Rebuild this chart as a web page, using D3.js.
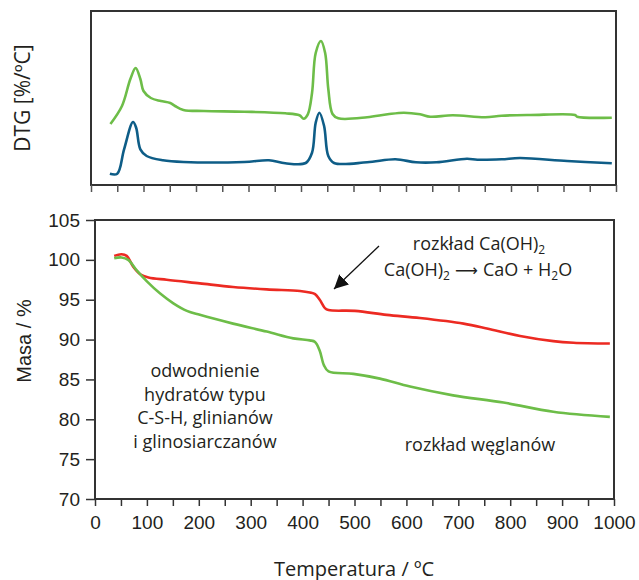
<!DOCTYPE html>
<html>
<head>
<meta charset="utf-8">
<script src="https://cdn.jsdelivr.net/npm/d3@7"></script>
<style>
  body { margin: 0; background: #fff; }
  svg { display: block; }
</style>
</head>
<body>
<div id="chart"></div>
<script>
// DTG curves (relative units, no scale on the axis)
var dtgGreenT = [37, 59, 75, 85, 94, 100, 114, 133, 151, 160, 176, 215, 292, 370, 397, 405, 413, 421, 428, 438, 446, 452, 460, 471, 526, 565, 596, 627, 646, 689, 751, 782, 837, 922, 926, 992]
var dtgGreen  = [61, 79, 106, 117, 106, 94, 87, 84, 82, 79, 75, 74, 73.3, 71.7, 69.7, 66.3, 70.7, 92, 132, 144, 132, 96, 71, 66.7, 67.7, 70.7, 72.3, 70.7, 68.3, 69.7, 67.7, 69.3, 70, 70, 68.3, 67.3]
var dtgBlueT  = [36, 50, 63, 80, 86, 94, 106, 137, 176, 292, 339, 370, 409, 421, 428, 435, 444, 452, 463, 526, 580, 619, 658, 716, 736, 782, 817, 907, 992]
var dtgBlue   = [11.3, 11.3, 35.7, 63, 57.3, 35.7, 29, 24.7, 23, 23, 24.7, 21.7, 22, 32.3, 62.3, 72.3, 59, 29, 22, 22.7, 25.7, 22.7, 22.7, 26.3, 25.3, 25.7, 27, 24, 21.7]

// TG curves, mass %
var tgRedT   = [37, 51, 61, 74, 87, 103, 138, 202, 266, 331, 395, 414, 424, 433, 443, 450, 501, 562, 626, 710, 755, 819, 883, 922, 992]
var tgRed    = [100.5, 100.7, 100.5, 99.1, 98.2, 97.8, 97.5, 97.05, 96.6, 96.3, 96.1, 95.9, 95.7, 95.0, 93.95, 93.7, 93.6, 93.1, 92.7, 92.0, 91.4, 90.45, 89.8, 89.6, 89.5]
var tgGreenT = [37, 51, 64, 80, 100, 125, 151, 177, 202, 266, 331, 382, 414, 424, 433, 441, 450, 498, 549, 607, 690, 787, 883, 992]
var tgGreen  = [100.2, 100.3, 100.0, 98.7, 97.3, 95.8, 94.55, 93.6, 93.1, 92.0, 91.0, 90.15, 89.9, 89.7, 88.6, 86.8, 86.0, 85.7, 85.1, 84.1, 83.0, 82.1, 80.95, 80.3]

var xTicks = d3.range(0, 1001, 50)
var yTicks = d3.range(70, 106, 5)

var width = 639, height = 580
var green = "#6dbd48", blue = "#0e5d87", red = "#ec2a22", ink = "#231f20"

var svg = d3.select("#chart").append("svg")
    .attr("width", width)
    .attr("height", height)

// ---------- top panel (DTG) ----------
var xTop = d3.scaleLinear().domain([0, 1000]).range([91, 616])
var yTop = d3.scaleLinear().domain([0, 174]).range([185, 11])

svg.append("rect")
    .attr("x", 91).attr("y", 11)
    .attr("width", 616 - 91).attr("height", 185 - 11)
    .attr("fill", "none").attr("stroke", "#333").attr("stroke-width", 2)

var axTop = svg.append("g")
    .attr("transform", "translate(0,185)")
    .call(d3.axisBottom(xTop).tickValues(xTicks).tickSize(7).tickFormat(""))
axTop.select(".domain").remove()
axTop.selectAll("line").attr("stroke", "#555").attr("stroke-width", 1.5)

var lineTop = function(ts) {
  return d3.line()
    .x(function(d, i) { return xTop(ts[i]) })
    .y(function(d) { return yTop(d) })
    .curve(d3.curveCatmullRom.alpha(0.5))
}

svg.append("path").datum(dtgGreen)
    .attr("d", lineTop(dtgGreenT))
    .attr("fill", "none").attr("stroke", green).attr("stroke-width", 2.6)
svg.append("path").datum(dtgBlue)
    .attr("d", lineTop(dtgBlueT))
    .attr("fill", "none").attr("stroke", blue).attr("stroke-width", 2.6)

svg.append("text")
    .attr("transform", "translate(30,98) rotate(-90)")
    .attr("text-anchor", "middle")
    .style("font-family", "'Open Sans', sans-serif")
    .style("font-size", "21px")
    .attr("fill", ink)
    .text("DTG [%/ºC]")

// ---------- bottom panel (TG) ----------
var x = d3.scaleLinear().domain([0, 1000]).range([95, 614])
var y = d3.scaleLinear().domain([70, 105]).range([499, 220])

svg.append("rect")
    .attr("x", 95).attr("y", 220)
    .attr("width", 614 - 95).attr("height", 499 - 220)
    .attr("fill", "none").attr("stroke", "#333").attr("stroke-width", 2)

var axX = svg.append("g")
    .attr("transform", "translate(0,499)")
    .call(d3.axisBottom(x).tickValues(xTicks).tickSize(7).tickPadding(10)
      .tickFormat(function(d) { return d % 100 == 0 ? d : "" }))
axX.select(".domain").remove()
axX.selectAll("line").attr("stroke", "#333").attr("stroke-width", 1.5)
axX.selectAll("text")
    .style("font-family", "'Liberation Sans', Arial, sans-serif")
    .style("font-size", "19px")
    .attr("fill", ink)

var axY = svg.append("g")
    .attr("transform", "translate(95,0)")
    .call(d3.axisLeft(y).tickValues(yTicks).tickSize(9).tickPadding(6))
axY.select(".domain").remove()
axY.selectAll("line").attr("stroke", "#333").attr("stroke-width", 1.5)
axY.selectAll("text")
    .style("font-family", "'Liberation Sans', Arial, sans-serif")
    .style("font-size", "19px")
    .attr("fill", ink)

var lineBot = function(ts) {
  return d3.line()
    .x(function(d, i) { return x(ts[i]) })
    .y(function(d) { return y(d) })
    .curve(d3.curveCatmullRom.alpha(0.5))
}

svg.append("path").datum(tgRed)
    .attr("d", lineBot(tgRedT))
    .attr("fill", "none").attr("stroke", red).attr("stroke-width", 2.6)
svg.append("path").datum(tgGreen)
    .attr("d", lineBot(tgGreenT))
    .attr("fill", "none").attr("stroke", green).attr("stroke-width", 2.6)

svg.append("text")
    .attr("transform", "translate(31,341) rotate(-90)")
    .attr("text-anchor", "middle")
    .style("font-family", "'Liberation Sans', Arial, sans-serif")
    .style("font-size", "20px")
    .attr("fill", ink)
    .text("Masa / %")

svg.append("text")
    .attr("x", 354).attr("y", 576)
    .attr("text-anchor", "middle")
    .style("font-family", "'Open Sans', sans-serif")
    .style("font-size", "20px")
    .attr("fill", ink)
    .text("Temperatura / ºC")

// ---------- annotations ----------
var note = svg.append("g")
    .style("font-family", "'Open Sans', sans-serif")
    .style("font-size", "18px")
    .attr("fill", ink)
    .attr("text-anchor", "middle")

var leftLines = ["odwodnienie", "hydratów typu", "C-S-H, glinianów", "i glinosiarczanów"]
note.selectAll("text.left").data(leftLines).enter().append("text")
    .attr("x", 205)
    .attr("y", function(d, i) { return 377 + i * 23.5 })
    .text(function(d) { return d })

note.append("text").attr("x", 480).attr("y", 451).text("rozkład węglanów")

var t1 = note.append("text").attr("x", 479).attr("y", 250)
t1.append("tspan").text("rozkład Ca(OH)")
t1.append("tspan").attr("dy", 4).style("font-size", "12px").text("2")

var t2 = note.append("text").attr("x", 478).attr("y", 276)
t2.append("tspan").text("Ca(OH)")
t2.append("tspan").attr("dy", 4).style("font-size", "12px").text("2")
t2.append("tspan").attr("dy", -4).style("font-family", "'DejaVu Sans', sans-serif")
    .style("font-size", "16px").text(" ⟶ ")
t2.append("tspan").text("CaO + H")
t2.append("tspan").attr("dy", 4).style("font-size", "12px").text("2")
t2.append("tspan").attr("dy", -4).text("O")

svg.append("defs").append("marker")
    .attr("id", "arrow")
    .attr("viewBox", "0 0 10 10")
    .attr("refX", 10).attr("refY", 5)
    .attr("markerWidth", 14).attr("markerHeight", 14)
    .attr("markerUnits", "userSpaceOnUse")
    .attr("orient", "auto")
  .append("path")
    .attr("d", "M0,0 L10,5 L0,10 Z")
    .attr("fill", "#111")

svg.append("line")
    .attr("x1", 379).attr("y1", 246)
    .attr("x2", 334).attr("y2", 289)
    .attr("stroke", "#111").attr("stroke-width", 1.3)
    .attr("marker-end", "url(#arrow)")
</script>
</body>
</html>
